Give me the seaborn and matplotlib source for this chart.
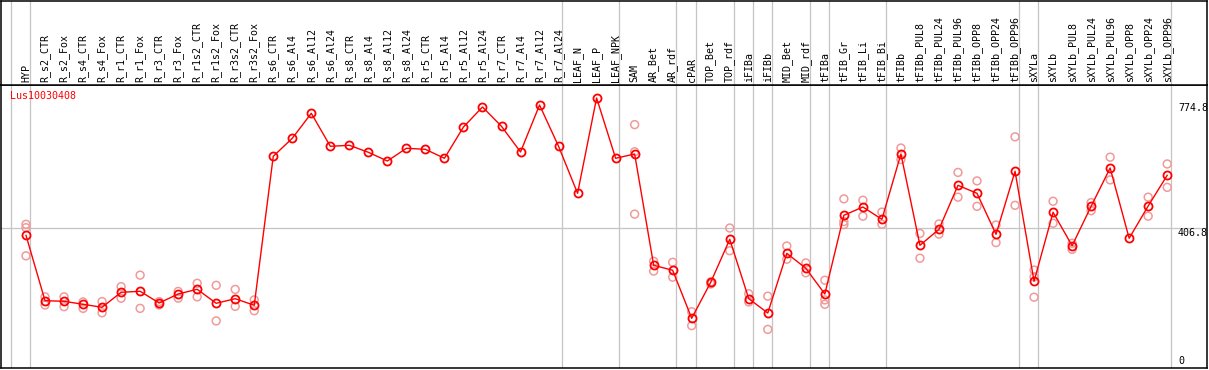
import matplotlib
matplotlib.use('Agg')
import matplotlib.pyplot as plt
import numpy as np
import pandas as pd
import seaborn as sns

gene = 'Lus10030408'

samples = ['HYP',
           'R_s2_CTR', 'R_s2_Fox', 'R_s4_CTR', 'R_s4_Fox', 'R_r1_CTR', 'R_r1_Fox',
           'R_r3_CTR', 'R_r3_Fox', 'R_r1s2_CTR', 'R_r1s2_Fox', 'R_r3s2_CTR',
           'R_r3s2_Fox', 'R_s6_CTR', 'R_s6_Al4', 'R_s6_Al12', 'R_s6_Al24',
           'R_s8_CTR', 'R_s8_Al4', 'R_s8_Al12', 'R_s8_Al24', 'R_r5_CTR',
           'R_r5_Al4', 'R_r5_Al12', 'R_r5_Al24', 'R_r7_CTR', 'R_r7_Al4',
           'R_r7_Al12', 'R_r7_Al24',
           'LEAF_N', 'LEAF_P', 'LEAF_NPK',
           'SAM', 'AR_Bet', 'AR_rdf', 'cPAR', 'TOP_Bet', 'TOP_rdf', 'iFIBa',
           'iFIBb', 'MID_Bet', 'MID_rdf', 'tFIBa', 'tFIB_Gr', 'tFIB_Li',
           'tFIB_Bi', 'tFIBb', 'tFIBb_PUL8', 'tFIBb_PUL24', 'tFIBb_PUL96',
           'tFIBb_OPP8', 'tFIBb_OPP24', 'tFIBb_OPP96', 'sXYLa', 'sXYLb',
           'sXYLb_PUL8', 'sXYLb_PUL24', 'sXYLb_PUL96', 'sXYLb_OPP8',
           'sXYLb_OPP24', 'sXYLb_OPP96']

means = [385.5,
         192.6, 190.9, 182.0, 173.2, 217.4, 220.4, 185.8, 212.4, 226.3, 185.0,
         198.5, 179.1, 618.6, 671.7, 745.4, 648.1, 651.0, 630.4, 604.7, 642.2,
         639.2, 612.7, 705.0, 764.0, 707.1, 631.3, 769.9, 648.1,
         509.4, 790.6, 612.7,
         625.4, 297.1, 282.3, 140.7, 246.9, 373.7, 198.5, 156.3, 332.4, 288.2,
         212.4, 444.5, 469.0, 432.7, 625.4, 356.0, 403.2, 533.0, 509.4, 388.5,
         574.3, 249.9, 453.4, 354.9, 471.1, 584.1, 376.7, 472.0, 562.5]

nan = np.nan
rep1 = [418, 204, 204, 189, 190, 234, 268, 180, 220, 244, 238, 226, 195,
        nan, nan, nan, nan, nan, nan, nan, nan, nan, nan, nan, nan, nan, nan,
        nan, nan, nan, nan, nan,
        712, 309, 306, 160, 248, 407, 213, 206, 354, 304, 253, 493, 489, 454,
        643, 391, 419, 571, 546, 416, 676, 283, 486, 362, 482, 616, nan, 498,
        596]
rep2 = [408, 180, 175, 170, 157, 200, 170, 190, 200, 204, 133, 176, 163,
        nan, nan, nan, nan, nan, nan, nan, nan, nan, nan, nan, nan, nan, nan,
        nan, nan, nan, nan, nan,
        632, 280, 262, 119, 242, 340, 189, 108, 315, 275, 195, 426, 442, 418,
        609, 318, 389, 498, 471, 364, 474, 263, 421, 344, 458, 549, nan, 442,
        527]
rep3 = [325, nan, nan, nan, nan, nan, nan, nan, nan, nan, nan, nan, nan,
        nan, nan, nan, nan, nan, nan, nan, nan, nan, nan, nan, nan, nan, nan,
        nan, nan, nan, nan, nan,
        448, nan, nan, nan, nan, nan, nan, nan, nan, nan, 182, 417, nan, nan,
        nan, nan, nan, nan, nan, nan, nan, 203, nan, nan, nan, nan, nan, nan,
        nan]

# last sample of each tissue group (separator lines drawn after them)
group_ends = [-1, 0, 28, 31, 34, 35, 37, 38, 39, 41, 42, 45, 52, 53, 60]
tick_values = [774.8, 406.8]

n = len(samples)
pos = np.arange(n)
df_mean = pd.DataFrame({'pos': pos, 'value': means})
df_rep = pd.concat([pd.DataFrame({'pos': pos, 'value': r}) for r in (rep1, rep2, rep3)])
df_rep = df_rep.dropna()

plt.rcParams['font.family'] = ['DejaVu Sans Mono']
FS = 7.2
GRID = '#c4c4c4'

W, H = 1209, 370
fig = plt.figure(figsize=(W / 100, H / 100), dpi=100)
ax = fig.add_axes([1 / W, 2 / H, 1206 / W, 283 / H])
hd = fig.add_axes([1 / W, 285 / H, 1206 / W, 84 / H])

xlim = ((1 - 26) / 19.02, (1207 - 26) / 19.02)
for a in (ax, hd):
    a.set_xlim(*xlim)
    a.set_xticks([])
    a.set_yticks([])
    for s in a.spines.values():
        s.set_color('black')
        s.set_linewidth(1.1)
    for g in group_ends:
        a.axvline(g + 0.2, color=GRID, lw=0.9, zorder=0)
hd.set_ylim(0, 1)
ax.set_ylim(-5.9, 828.9)

ax.axhline(406.8, color=GRID, lw=0.9, zorder=0)

sns.scatterplot(data=df_rep, x='pos', y='value', ax=ax, marker='o', s=32,
                facecolors='none', edgecolor='#f09a9a', linewidth=1.1, zorder=3)
sns.lineplot(data=df_mean, x='pos', y='value', ax=ax, color='red', lw=1.0,
             marker='o', markersize=5.8, mfc='none', mec='red', mew=1.3,
             zorder=4)
ax.set_xlabel('')
ax.set_ylabel('')

for i, lab in enumerate(samples):
    hd.text(i, 0.03, lab, rotation=90, ha='center', va='bottom', fontsize=FS)

xr = (1178 - 26) / 19.02
for v in tick_values:
    ax.text(xr, v, f'{v:g}', ha='left', va='top', fontsize=FS)
ax.text(xr, 0, '0', ha='left', va='bottom', fontsize=FS)

ax.text((10 - 26) / 19.02, 812, gene, color='red', ha='left', va='top',
        fontsize=FS)

fig.savefig('out.png', dpi=100)
